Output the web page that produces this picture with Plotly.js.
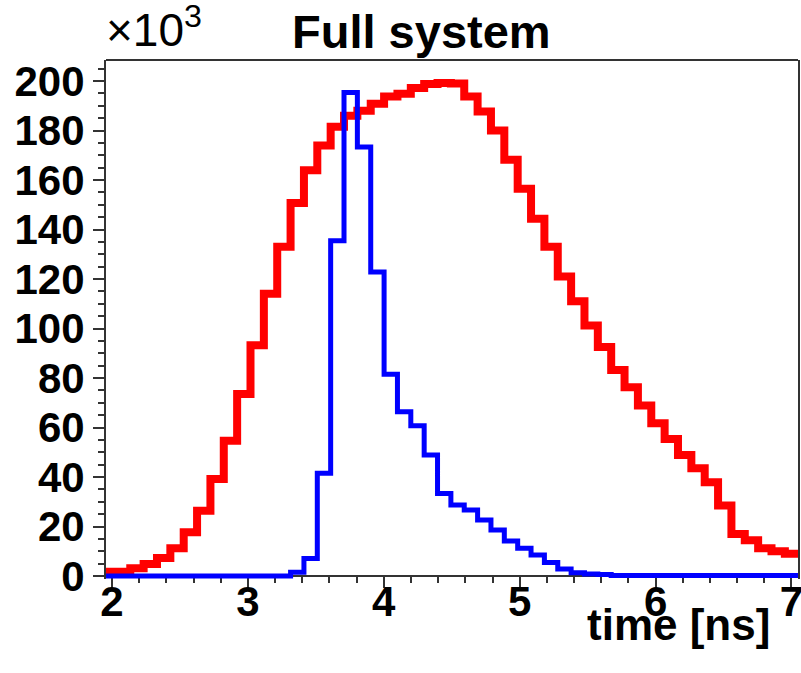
<!DOCTYPE html>
<html>
<head>
<meta charset="utf-8">
<script src="https://cdn.plot.ly/plotly-3.0.1.min.js"></script>
<style>
  html, body { margin: 0; padding: 0; background: #ffffff; }
  #chart { width: 801px; height: 673px; }
</style>
</head>
<body>
<div id="chart"></div>
<script>
// Histogram binning (ns)
const binStart = 1.938;
const binWidth = 0.0983;

// Counts per bin, in units of 10^3
const redCounts = [1.7, 1.7, 3.1, 4.8, 7.3, 11.2, 17.7, 26.4, 39.2, 54.7,
  73.5, 93.2, 114, 133, 150.7, 164, 174, 181.5, 186, 188,
  190.8, 193.8, 194.9, 197.2, 198.8, 199.2, 199.0, 193.8, 187.7, 180,
  168.2, 156.5, 144.4, 133, 121, 111, 101.2, 92.5, 83.2, 76.3,
  68.9, 61.7, 55.4, 48.9, 43.5, 37.9, 28.5, 17, 14.4, 11.2,
  10, 9];

const blueCounts = [0, 0, 0, 0, 0, 0, 0, 0, 0, 0,
  0, 0, 0, 0, 1.5, 7.1, 41.5, 135.5, 195.4, 173.3,
  122.8, 81.5, 66.4, 60.7, 48.9, 33.3, 28.7, 26.7, 22.6, 18.6,
  14.1, 11.2, 8.5, 5.5, 2.8, 1.3, 0.8, 0.6, 0.2, 0.2,
  0.2, 0.2, 0.2, 0.2, 0.2, 0.2, 0.2, 0.2, 0.2, 0.2,
  0.2, 0.2];

const yTickVals = [0, 20, 40, 60, 80, 100, 120, 140, 160, 180, 200];
const yTickText = ['0', '20', '40', '60', '80', '100', '120', '140', '160', '180', '200'];
const xTickVals = [2, 3, 4, 5, 6, 7];
const xTickText = ['2', '3', '4', '5', '6', '7'];

function edges(n) {
  const e = [];
  for (let i = 0; i <= n; i++) e.push(binStart + binWidth * i);
  return e;
}
function stepY(vals) { return vals.concat([vals[vals.length - 1]]); }

const FONT = 'Liberation Sans, Arial, Helvetica, sans-serif';

const traces = [
  {
    x: edges(redCounts.length), y: stepY(redCounts),
    type: 'scatter', mode: 'lines',
    line: { shape: 'hv', color: '#ff0000', width: 8 },
    hoverinfo: 'skip', showlegend: false
  },
  {
    x: edges(blueCounts.length), y: stepY(blueCounts),
    type: 'scatter', mode: 'lines',
    line: { shape: 'hv', color: '#0000ff', width: 5 },
    hoverinfo: 'skip', showlegend: false
  }
];

const plotH = 519; // px
const extraBelow = 3; // px below the zero line for stroke room
const yTop = 208.5;
const yLow = -extraBelow * (yTop / (plotH - extraBelow));

const layout = {
  width: 801, height: 673,
  margin: { l: 106, r: 3, t: 60, b: 94, pad: 0 },
  paper_bgcolor: '#ffffff', plot_bgcolor: '#ffffff',
  showlegend: false,
  title: {
    text: 'Full system',
    font: { family: FONT, size: 47, color: '#000000', weight: 'bold' },
    xref: 'container', yref: 'container',
    x: 0.526, xanchor: 'center', y: 0.953, yanchor: 'middle'
  },
  xaxis: {
    range: [1.956, 7.048],
    anchor: 'free', position: extraBelow / plotH,
    showgrid: false, zeroline: false,
    showline: true, linecolor: '#333333', linewidth: 2,
    ticks: 'outside', ticklen: 11, tickwidth: 2, tickcolor: '#333333',
    tickvals: xTickVals, ticktext: xTickText,
    ticklabeloverflow: 'allow', ticklabelstandoff: -22,
    tickfont: { family: FONT, size: 42, color: '#000000', weight: 'bold' },
    minor: { dtick: 0.2, tick0: 0, ticks: 'outside', ticklen: 6, tickwidth: 2, tickcolor: '#333333', showgrid: false },
    layer: 'below traces', fixedrange: true
  },
  yaxis: {
    range: [yLow, yTop],
    showgrid: false, zeroline: false,
    showline: true, mirror: true, linecolor: '#333333', linewidth: 2,
    ticks: 'outside', ticklen: 11, tickwidth: 2, tickcolor: '#333333',
    tickvals: yTickVals, ticktext: yTickText,
    ticklabeloverflow: 'allow',
    tickfont: { family: FONT, size: 42, color: '#000000', weight: 'bold' },
    minor: { dtick: 5, tick0: 0, ticks: 'outside', ticklen: 6, tickwidth: 2, tickcolor: '#333333', showgrid: false },
    layer: 'below traces', fixedrange: true
  },
  shapes: [
    { type: 'line', xref: 'paper', yref: 'paper', x0: 0, x1: 1, y0: 1, y1: 1,
      line: { color: '#333333', width: 2 }, layer: 'below' }
  ],
  annotations: [
    {
      text: '×10<sup>3</sup>', showarrow: false,
      xref: 'paper', yref: 'paper', x: -0.003, xanchor: 'left', y: 1, yanchor: 'bottom', yshift: 2,
      font: { family: FONT, size: 46, color: '#000000' }
    },
    {
      text: 'time [ns]', showarrow: false,
      xref: 'paper', yref: 'paper', x: 0.9624, xanchor: 'right', y: -0.0886, yanchor: 'middle',
      font: { family: FONT, size: 44, color: '#000000', weight: 'bold' }
    }
  ]
};

Plotly.newPlot('chart', traces, layout, { staticPlot: true, displayModeBar: false });
</script>
</body>
</html>
